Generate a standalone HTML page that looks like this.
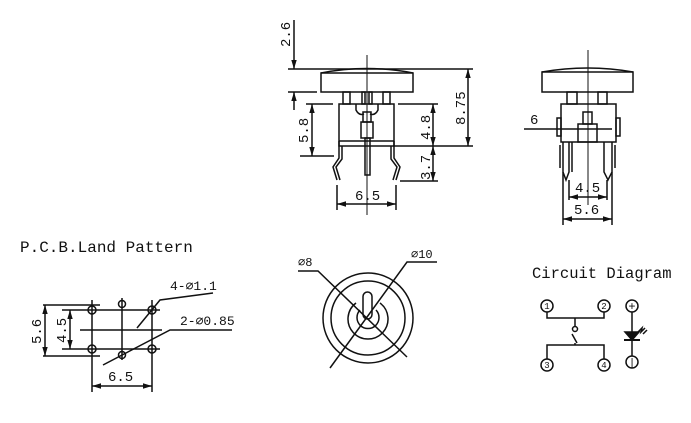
<!DOCTYPE html>
<html><head><meta charset="utf-8"><style>
html,body{margin:0;padding:0;background:#fff;}
svg{display:block;}
text{font-family:"Liberation Mono","Noto Sans CJK SC",monospace;fill:#111;}
</style></head><body>
<svg width="691" height="423" viewBox="0 0 691 423" xmlns="http://www.w3.org/2000/svg">
<defs>
<marker id="a" viewBox="0 0 10 10" refX="10" refY="5" markerWidth="6" markerHeight="6" orient="auto-start-reverse"><path d="M0,2 L10,5 L0,8 z" fill="#111"/></marker>
</defs>
<g stroke="#111" stroke-width="1.5" fill="none">
<!-- Front view -->
<line x1="288" y1="69" x2="473" y2="69"/>
<path d="M321,73 Q367,64 413,73"/>
<rect x="321" y="73" width="92" height="19"/>
<line x1="288" y1="92" x2="317" y2="92"/>
<line x1="294" y1="20" x2="294" y2="69" marker-end="url(#a)"/>
<line x1="294" y1="110" x2="294" y2="92" marker-end="url(#a)"/>
<line x1="367" y1="55" x2="367" y2="215" stroke-width="1"/>
<rect x="343" y="92" width="7" height="12"/>
<rect x="383" y="92" width="7" height="12"/>
<rect x="362" y="92" width="3" height="12"/>
<rect x="369" y="92" width="3" height="12"/>
<rect x="339" y="104" width="55" height="42"/>
<line x1="306" y1="104" x2="333" y2="104"/>
<line x1="398" y1="104" x2="438" y2="104"/>
<path d="M356,104 v6 q3,6 8,4 M378,104 v6 q-3,6 -8,4"/>
<rect x="363" y="112" width="8" height="10"/>
<rect x="361" y="122" width="12" height="16"/>
<rect x="365" y="138" width="5" height="37"/>
<line x1="339" y1="141" x2="394" y2="141"/>
<path d="M339,141 v17 l-6,9 l4,13 M342,146 v13 l-6,8 l4,13 M394,141 v17 l6,9 l-4,13 M391,146 v13 l6,8 l-4,13"/>
<line x1="393" y1="146" x2="473" y2="146"/>
<line x1="300" y1="156" x2="334" y2="156"/>
<line x1="400" y1="181" x2="438" y2="181"/>
<line x1="312" y1="104" x2="312" y2="156" marker-start="url(#a)" marker-end="url(#a)"/>
<line x1="433" y1="104" x2="433" y2="146" marker-start="url(#a)" marker-end="url(#a)"/>
<line x1="433" y1="146" x2="433" y2="181" marker-start="url(#a)" marker-end="url(#a)"/>
<line x1="468" y1="69" x2="468" y2="146" marker-start="url(#a)" marker-end="url(#a)"/>
<line x1="337" y1="185" x2="337" y2="210"/>
<line x1="396" y1="185" x2="396" y2="210"/>
<line x1="337" y1="204" x2="396" y2="204" marker-start="url(#a)" marker-end="url(#a)"/>
<!-- Side view -->
<line x1="588" y1="50" x2="588" y2="205" stroke-width="1"/>
<path d="M542,72 Q588,64 633,72"/>
<rect x="542" y="72" width="91" height="20"/>
<rect x="567" y="92" width="10" height="12"/>
<rect x="598" y="92" width="9" height="12"/>
<rect x="561" y="104" width="55" height="38"/>
<rect x="583" y="112" width="9" height="12"/>
<rect x="578" y="124" width="19" height="18"/>
<rect x="557" y="118" width="4" height="18"/>
<rect x="616" y="118" width="4" height="18"/>
<line x1="524" y1="129" x2="612" y2="129"/>
<path d="M563,142 v30 l3,8 l3,-8 v-30 M572,142 v30 M604,142 v30 l4,8 l4,-8 v-30"/>
<line x1="560" y1="145" x2="560" y2="168"/><line x1="615" y1="145" x2="615" y2="168"/>
<line x1="563" y1="172" x2="563" y2="225"/>
<line x1="612" y1="172" x2="612" y2="225"/>
<line x1="569" y1="180" x2="569" y2="200"/>
<line x1="607" y1="180" x2="607" y2="200"/>
<line x1="569" y1="197" x2="607" y2="197" marker-start="url(#a)" marker-end="url(#a)"/>
<line x1="563" y1="219" x2="612" y2="219" marker-start="url(#a)" marker-end="url(#a)"/>
<!-- PCB -->
<line x1="43" y1="305" x2="100" y2="305"/>
<line x1="43" y1="356" x2="100" y2="356"/>
<line x1="62" y1="310" x2="160" y2="310"/>
<line x1="62" y1="349" x2="160" y2="349"/>
<line x1="80" y1="330" x2="162" y2="330"/>
<line x1="92" y1="300" x2="92" y2="392"/>
<line x1="152" y1="300" x2="152" y2="392"/>
<line x1="122" y1="298" x2="122" y2="360"/>
<circle cx="92" cy="310" r="4"/><circle cx="152" cy="310" r="4"/>
<circle cx="92" cy="349" r="4"/><circle cx="152" cy="349" r="4"/>
<circle cx="122" cy="304" r="3.5"/><circle cx="122" cy="355" r="3.5"/>
<line x1="45" y1="305" x2="45" y2="356" marker-start="url(#a)" marker-end="url(#a)"/>
<line x1="70" y1="310" x2="70" y2="349" marker-start="url(#a)" marker-end="url(#a)"/>
<line x1="92" y1="386" x2="152" y2="386" marker-start="url(#a)" marker-end="url(#a)"/>
<path d="M137,328 L160,300 L213,293"/>
<path d="M103,365 L170,330 L232,330"/>
<!-- Top view -->
<circle cx="368" cy="318" r="45"/>
<circle cx="368" cy="318" r="37"/>
<path d="M356,303 A20,20 0 1 0 380,303"/>
<path d="M360,310 A11,11 0 1 0 376,310"/>
<rect x="363" y="292" width="9" height="27" rx="4.5"/>
<path d="M298,271 L318,271 L407,357"/>
<path d="M437,262 L407,262 L330,368"/>
<!-- Circuit -->
<circle cx="547" cy="306" r="6"/><circle cx="604" cy="306" r="6"/>
<circle cx="547" cy="365" r="6"/><circle cx="604" cy="365" r="6"/>
<circle cx="632" cy="306" r="6"/><circle cx="632" cy="362" r="6"/>
<path d="M547,312 V318 H604 V312 M575,318 V326"/>
<circle cx="575" cy="329" r="2.5"/>
<path d="M572,334 L577,343 M575,343 V345 M547,359 V345 H604 V359"/>
<line x1="632" y1="312" x2="632" y2="356"/>
<path d="M625,332 L639,332 L632,340 Z" fill="#111"/>
<line x1="624" y1="340" x2="640" y2="340" stroke-width="2"/>
<path d="M638,332 l4,-4 l-1,4 l4,-4 M643,334 l4,-4"/>
</g>
<g font-size="14">
<text transform="translate(290,47) rotate(-90)">2.6</text>
<text transform="translate(308,143) rotate(-90)">5.8</text>
<text transform="translate(430,140) rotate(-90)">4.8</text>
<text transform="translate(430,180) rotate(-90)">3.7</text>
<text transform="translate(465,125) rotate(-90)">8.75</text>
<text x="355" y="200">6.5</text>
<text x="530" y="124">6</text>
<text x="575" y="192">4.5</text>
<text x="574" y="214">5.6</text>
<text transform="translate(41,344) rotate(-90)">5.6</text>
<text transform="translate(66,343) rotate(-90)">4.5</text>
<text x="108" y="381">6.5</text>
<text x="170" y="290" font-size="13">4-⌀1.1</text>
<text x="180" y="325" font-size="13">2-⌀0.85</text>
<text x="298" y="266" font-size="12">⌀8</text>
<text x="411" y="258" font-size="12">⌀10</text>
</g>
<text x="20" y="252" font-size="16">P.C.B.Land Pattern</text>
<text x="532" y="278" font-size="15.5">Circuit Diagram</text>
<g font-size="9" text-anchor="middle">
<text x="547" y="309">1</text><text x="604" y="309">2</text>
<text x="547" y="368">3</text><text x="604" y="368">4</text>
<text x="632" y="310" font-size="12">+</text><text x="632" y="366" font-size="11">|</text>
</g>
</svg>
</body></html>
